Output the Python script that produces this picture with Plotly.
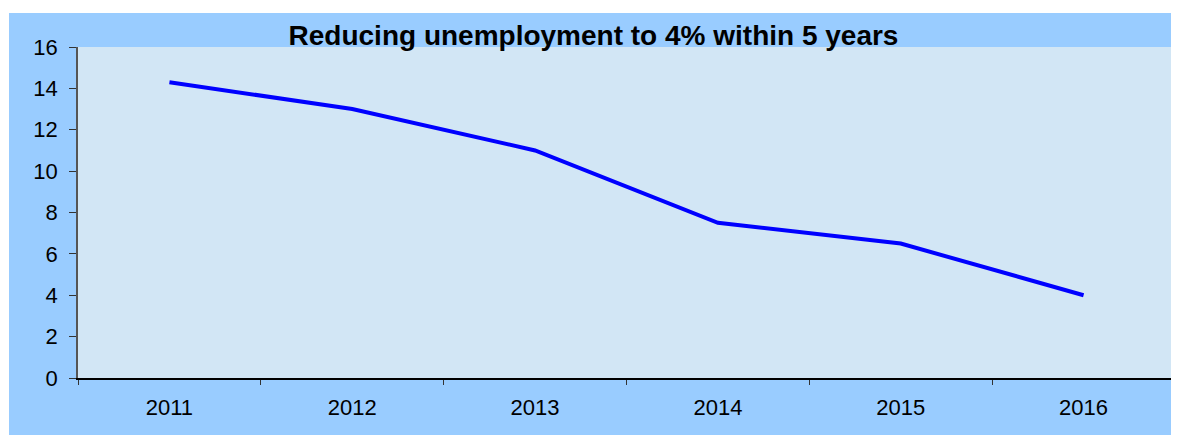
import plotly.graph_objects as go

years = ["2011", "2012", "2013", "2014", "2015", "2016"]
unemployment = [14.3, 13.0, 11.0, 7.5, 6.5, 4.0]
y_ticks = [0, 2, 4, 6, 8, 10, 12, 14, 16]

# page body has an 8px margin, so the figure sits at (8, 8)
W, H = 1171, 427
ml, mr, mt, mb = 70, 4, 39, 57
pw, ph = W - ml - mr, H - mt - mb

fig = go.Figure()
fig.add_trace(
    go.Scatter(
        x=years,
        y=unemployment,
        mode="lines",
        line=dict(color="#0000FF", width=4),
        showlegend=False,
    )
)

# light blue frame behind the chart
fig.add_shape(
    type="rect", xref="paper", yref="paper",
    x0=(1 - ml) / pw, x1=(W - ml) / pw,
    y0=-mb / ph, y1=(ph + mt - 5) / ph,
    fillcolor="#99CCFF", line_width=0, layer="below",
)
# plot area fill
fig.add_shape(
    type="rect", xref="paper", yref="paper",
    x0=0, x1=1, y0=0, y1=1,
    fillcolor="#D2E6F5", line_width=0, layer="below",
)

fig.update_layout(
    width=W,
    height=H,
    margin=dict(l=ml, r=mr, t=mt, b=mb),
    paper_bgcolor="white",
    plot_bgcolor="#D2E6F5",
    font=dict(family="Liberation Sans, Arial", color="black", size=22),
    title=dict(
        text="<b>Reducing unemployment to 4% within 5 years</b>",
        x=0.5,
        xanchor="center",
        y=1 - 27 / H,
        yanchor="middle",
        font=dict(size=28, family="Liberation Sans, Arial"),
    ),
)
fig.update_xaxes(
    type="category",
    range=[-0.5, 5.5],
    showgrid=False,
    showline=True,
    linecolor="black",
    linewidth=1.5,
    ticks="outside",
    tickson="boundaries",
    ticklen=5,
    tickcolor="#333333",
    tickfont=dict(size=22),
    ticklabelstandoff=9,
)
fig.update_yaxes(
    range=[0, 16],
    tickvals=y_ticks,
    showgrid=False,
    zeroline=False,
    showline=True,
    linecolor="#555555",
    linewidth=1.5,
    ticks="outside",
    ticklen=7,
    tickcolor="#333333",
    tickfont=dict(size=22),
    ticklabelstandoff=7,
)

fig.write_html("out.html")
